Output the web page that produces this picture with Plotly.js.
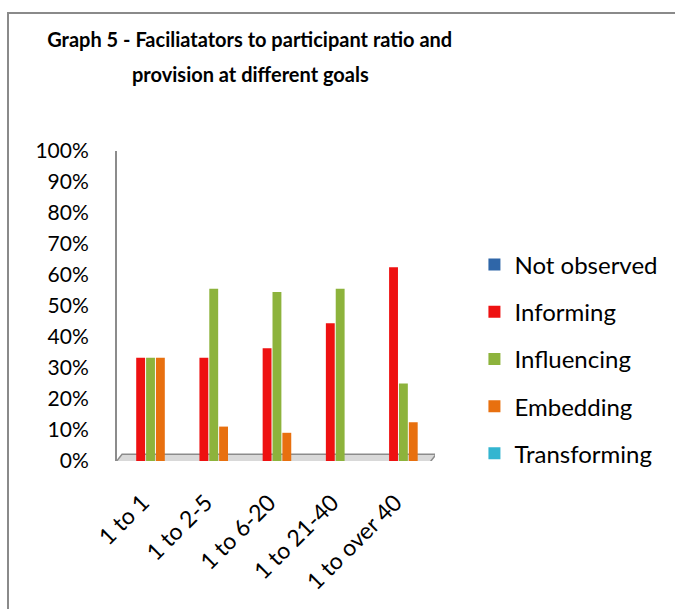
<!DOCTYPE html>
<html>
<head>
<meta charset="utf-8">
<script src="https://cdn.plot.ly/plotly-3.0.1.min.js"></script>
<style>
  html, body { margin: 0; padding: 0; background: #ffffff; overflow: hidden; }
  #chart { position: absolute; left: 0; top: 0; width: 675px; height: 609px; }
  #frame { position: absolute; left: 7px; top: 12px; width: 720px; height: 660px;
           border-left: 2px solid #8a8a8a; border-top: 2px solid #8a8a8a;
           pointer-events: none; z-index: 5; }
</style>
</head>
<body>
<div id="chart"></div>
<div id="frame"></div>
<script>
// Categories (facilitator : participant ratio)
const categories = ["1 to 1", "1 to 2-5", "1 to 6-20", "1 to 21-40", "1 to over 40"];

// Series values (share of sessions at each goal level)
const notObserved  = [0, 0, 0, 0, 0];
const informing    = [0.333, 0.333, 0.364, 0.444, 0.625];
const influencing  = [0.333, 0.556, 0.545, 0.556, 0.25];
const embedding    = [0.333, 0.111, 0.091, 0.0, 0.125];
const transforming = [0, 0, 0, 0, 0];

const seriesNames = ["Not observed", "Informing", "Influencing", "Embedding", "Transforming"];
const seriesValues = [notObserved, informing, influencing, embedding, transforming];
const seriesColors = ["#2f66a8", "#ee1111", "#8db33c", "#e8700f", "#33b5d0"];

// Y tick labels
const yTickVals = [0, 0.1, 0.2, 0.3, 0.4, 0.5, 0.6, 0.7, 0.8, 0.9, 1.0];
const yTickText = ["0%", "10%", "20%", "30%", "40%", "50%", "60%", "70%", "80%", "90%", "100%"];

// Title lines
const titleLine1 = "Graph 5 - Faciliatators to participant ratio and";
const titleLine2 = "provision at different goals";

const FONT = "Lato, 'Open Sans', 'DejaVu Sans', sans-serif";

const traces = seriesNames.map((name, i) => ({
  type: "bar",
  name: name,
  x: categories,
  y: seriesValues[i],
  legendgroup: "g" + i,
  marker: { color: seriesColors[i], line: { width: 0 } },
  hoverinfo: "x+y+name"
}));

const titleFont = { family: FONT, size: 20, color: "#000000", weight: "bold" };

const layout = {
  width: 675,
  height: 609,
  paper_bgcolor: "#ffffff",
  plot_bgcolor: "rgba(0,0,0,0)",
  margin: { l: 117, r: 236, t: 151, b: 148, pad: 0 },
  barmode: "group",
  bargap: 0.22,
  bargroupgap: 0.1,
  title: {
    text: titleLine1,
    font: titleFont,
    x: 0.37, xref: "container", xanchor: "center",
    y: 1 - 40 / 609, yref: "container", yanchor: "middle"
  },
  annotations: [
    {
      text: titleLine2,
      font: titleFont,
      xref: "paper", yref: "paper",
      x: (252 - 117) / 322, y: (461 - 74) / 310,
      xanchor: "center", yanchor: "middle",
      showarrow: false
    }
  ],
  xaxis: {
    type: "category",
    range: [-0.53, 4.5],
    showgrid: false,
    zeroline: false,
    showline: false,
    ticks: "outside",
    ticklen: 18,
    tickcolor: "rgba(0,0,0,0)",
    tickangle: -45,
    ticklabelshift: -8,
    tickfont: { family: FONT, size: 23, color: "#000000" },
    fixedrange: true
  },
  yaxis: {
    range: [0, 1.0],
    tickvals: yTickVals,
    ticktext: yTickText,
    showgrid: false,
    zeroline: false,
    showline: true,
    linecolor: "#8c8c8c",
    linewidth: 2,
    ticks: "outside",
    ticklen: 22,
    tickcolor: "rgba(0,0,0,0)",
    tickfont: { family: FONT, size: 21, color: "#000000" },
    fixedrange: true
  },
  legend: {
    x: 1.124, xanchor: "left",
    y: 0.705, yanchor: "top",
    traceorder: "grouped",
    tracegroupgap: 13,
    itemwidth: 30,
    font: { family: FONT, size: 24, color: "#000000" },
    bgcolor: "rgba(0,0,0,0)"
  },
  shapes: [
    {
      type: "path", xref: "x", yref: "y",
      path: "M -0.55,-0.004 L 4.42,-0.004 L 4.52,0.022 L -0.45,0.022 Z",
      fillcolor: "#d9d9d9",
      line: { color: "#8c8c8c", width: 1.5 },
      layer: "below"
    }
  ],
  showlegend: true
};

Plotly.newPlot("chart", traces, layout, { displayModeBar: false, staticPlot: true });
</script>
</body>
</html>
